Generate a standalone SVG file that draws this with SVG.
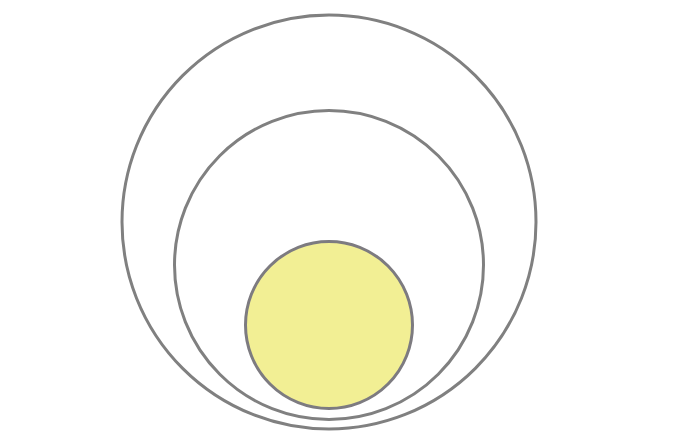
<svg xmlns="http://www.w3.org/2000/svg" width="681" height="441" viewBox="0 0 681 441">
<style>
.c{fill:none;stroke:#808080;stroke-width:3}
.y{fill:#f2ef94;stroke:#7d7b80;stroke-width:3}
</style>
<rect width="681" height="441" fill="#ffffff"/>
<g id="outer"><circle class="c" cx="329" cy="222" r="207"/></g>
<g id="middle"><circle class="c" cx="329" cy="265" r="154.5"/></g>
<g id="inner"><circle class="y" cx="329" cy="325" r="83.5"/></g>
<g id="connectors"></g>
</svg>
